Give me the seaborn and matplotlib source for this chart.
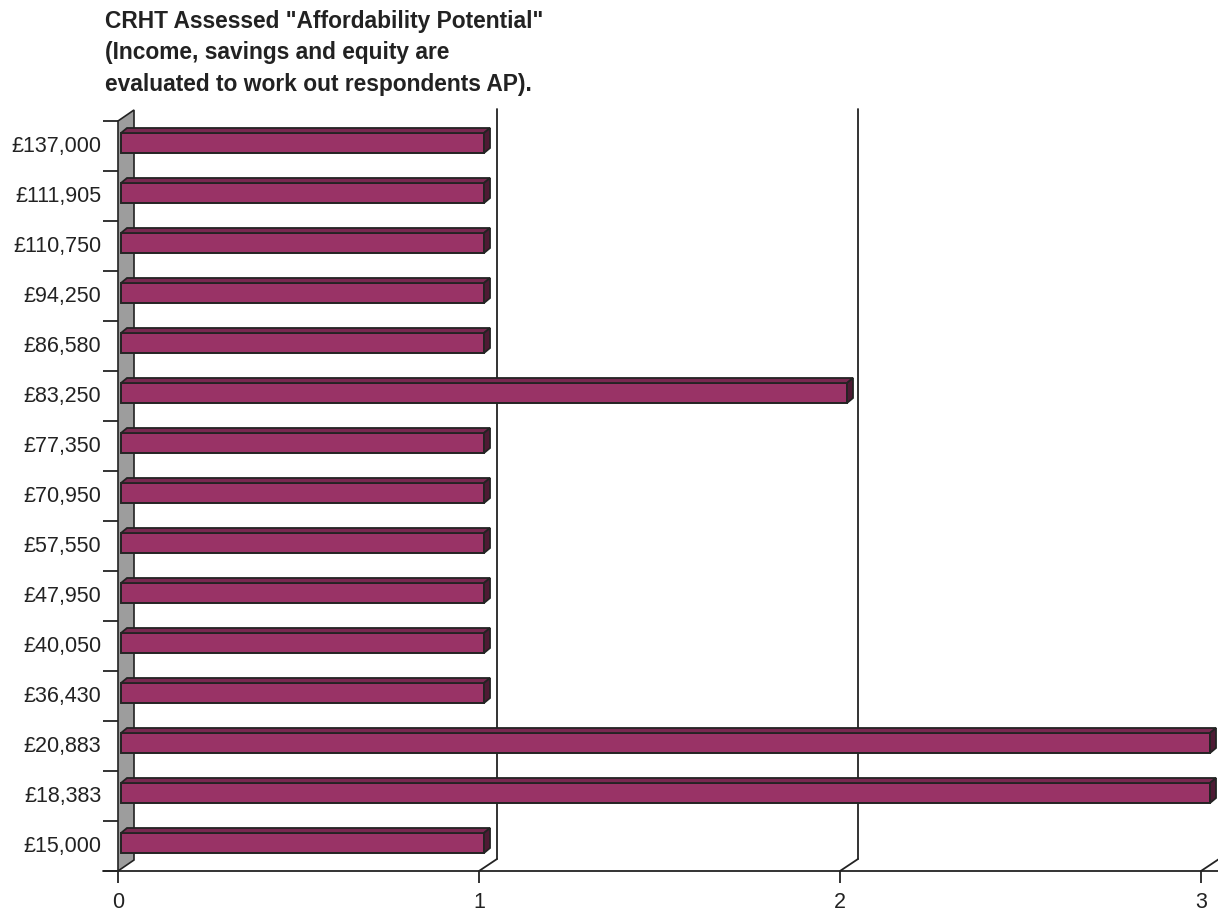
import numpy as np
import pandas as pd
import matplotlib
matplotlib.use("Agg")
import matplotlib.pyplot as plt
import matplotlib.transforms as mtransforms
from matplotlib.patches import Polygon
import seaborn as sns

# ---- data ----
categories = ["£137,000", "£111,905", "£110,750", "£94,250", "£86,580", "£83,250",
              "£77,350", "£70,950", "£57,550", "£47,950", "£40,050", "£36,430",
              "£20,883", "£18,383", "£15,000"]
counts = [1, 1, 1, 1, 1, 2, 1, 1, 1, 1, 1, 1, 3, 3, 1]
x_ticks = [0, 1, 2, 3]
title_lines = ['CRHT Assessed "Affordability Potential"',
               '(Income, savings and equity are',
               'evaluated to work out respondents AP).']

# ---- style ----
FACE = "#993366"
TOPC = "#782850"
SIDEC = "#4e1a34"
EDGE = "#232323"
WALL = "#9d9d9d"
TXT = "#222222"

sns.set_theme(style="white")
plt.rcParams['font.family'] = ['Liberation Sans', 'DejaVu Sans']

W, H = 1218, 913
fig = plt.figure(figsize=(W / 100, H / 100), dpi=100)
ax_left, ax_right, ax_bottom, ax_top = 118, 1218, 871, 100
ax = fig.add_axes([ax_left / W, (H - ax_bottom) / H,
                   (ax_right - ax_left) / W, (ax_bottom - ax_top) / H])

n = len(categories)
xs = 361.0   # px per unit (x)
ys = 50.0    # px per category (y)

df = pd.DataFrame({"category": categories, "count": counts})
sns.barplot(data=df, x="count", y="category", orient="h", color=FACE,
            saturation=1, width=0.4, edgecolor=EDGE, linewidth=1.4, ax=ax)

floor = n - 0.5
top_front = -0.5
ax.set_xlim(0, (ax_right - ax_left) / xs)
ax.set_ylim(floor, floor - (ax_bottom - ax_top) / ys)

# depth vectors (data units)
DX, DY = 18 / xs, -12 / ys          # back plane
WDX, WDY = 16 / xs, -11 / ys        # wall
OX, OY = 3 / xs, -3.0 / ys          # bar placement inside depth
BDX, BDY = 6 / xs, -5 / ys          # bar depth

# 3D faces for bars (bars sit mid-depth, slightly larger scale)
for p in list(ax.patches):
    tr = mtransforms.Affine2D().scale(363 / 361, 1).translate(OX, OY) + ax.transData
    p.set_transform(tr)
    p.set_zorder(3)
    x0, y0, w, h = p.get_x(), p.get_y(), p.get_width(), p.get_height()
    bdx = BDX * 361 / 363
    topf = Polygon([(x0, y0), (x0 + w, y0), (x0 + w + bdx, y0 + BDY), (x0 + bdx, y0 + BDY)],
                   closed=True, fc=TOPC, ec=EDGE, lw=1.3, transform=tr, zorder=3)
    side = Polygon([(x0 + w, y0), (x0 + w, y0 + h), (x0 + w + bdx, y0 + h + BDY), (x0 + w + bdx, y0 + BDY)],
                   closed=True, fc=SIDEC, ec=EDGE, lw=1.3, transform=tr, zorder=3)
    ax.add_patch(topf)
    ax.add_patch(side)

# wall
wall = Polygon([(0, floor), (WDX, floor + WDY), (WDX, top_front + WDY), (0, top_front)],
               closed=True, fc=WALL, ec=EDGE, lw=1.2, zorder=1, clip_on=False)
ax.add_patch(wall)

# gridlines on back plane
for v in x_ticks[1:]:
    ax.plot([v, v + DX], [floor, floor + DY], color=EDGE, lw=1.3, zorder=1, clip_on=False)
    ax.plot([v + DX, v + DX], [floor + DY, top_front + DY], color=EDGE, lw=1.3, zorder=1)

# front floor line
ax.plot([-15 / xs, (ax_right - ax_left) / xs], [floor, floor], color=EDGE, lw=1.3,
        zorder=2, clip_on=False)

for s in ax.spines.values():
    s.set_visible(False)

ax.set_xticks(x_ticks)
ax.set_xticklabels([str(t) for t in x_ticks])
ax.tick_params(axis="x", which="major", direction="out", length=8.6, width=1.3,
               color=EDGE, pad=6.5, labelsize=15.5, labelcolor=TXT, bottom=True)
ax.set_yticks(np.arange(-0.5, n, 1), minor=True)
ax.tick_params(axis="y", which="minor", direction="out", length=10.8, width=1.3,
               color=EDGE, left=True)
ax.tick_params(axis="y", which="major", length=0, pad=12, labelsize=15.5,
               labelcolor=TXT, left=True)
ax.set_xlabel("")
ax.set_ylabel("")
ax.grid(False)

offset = mtransforms.ScaledTranslation(0, 2 / 100, fig.dpi_scale_trans)
for lbl in ax.get_yticklabels():
    lbl.set_transform(lbl.get_transform() + offset)

fig.text(105 / W, 1 - 10 / H, "\n".join(title_lines), ha="left", va="top",
         fontsize=16.4, fontweight="bold", linespacing=1.47, color=TXT)

fig.savefig("out.png", dpi=100)
